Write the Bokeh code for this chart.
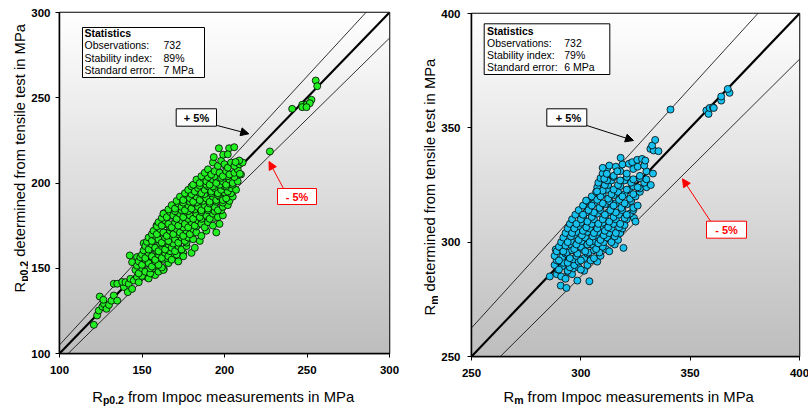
import math
import numpy as np
from bokeh.plotting import figure
from bokeh.layouts import row, column
from bokeh.models import Label, BoxAnnotation, Arrow, NormalHead, FixedTicker
from bokeh.core.properties import value
from bokeh.embed import file_html
from bokeh.resources import INLINE

# ---------------- data ----------------
rp_ticks = [100, 150, 200, 250, 300]
rm_ticks = [250, 300, 350, 400]
tolerance = [0.95, 1.0, 1.05]
stat_names = ["Observations:", "Stability index:", "Standard error:"]
rp02_stats = ["732", "89%", "7 MPa"]
rm_stats = ["732", "79%", "6 MPa"]
plus_text = "+ 5%"
minus_text = "- 5%"
x_title_rest = "from Impoc measurements in MPa"
y_title_rest = "determined from tensile test in MPa"

# (Impoc, tensile) pairs
rp02_points = [
    (120.8, 116.8), (122.8, 122.3), (123.8, 125.2), (126.0, 127.5), (127.0, 129.0), (128.5, 126.2),
    (130.0, 128.5), (124.4, 133.4), (126.6, 131.5), (131.5, 131.0), (132.9, 134.0), (135.0, 131.0),
    (132.9, 140.9), (135.0, 140.9), (139.0, 139.0), (138.0, 142.0), (140.0, 141.8), (141.4, 136.0),
    (142.0, 140.9), (144.0, 137.9), (143.0, 143.8), (145.0, 142.8), (147.0, 144.8), (148.0, 141.8),
    (142.6, 157.5), (144.0, 153.6), (147.0, 156.6), (151.0, 164.7), (153.0, 144.8), (163.2, 149.6),
    (175.0, 159.0), (158.8, 175.0), (163.2, 182.3), (150, 145.5), (154, 144), (158, 146),
    (146, 149), (148, 147), (150, 150), (152, 148), (155, 147), (157, 150), (160, 148), (163, 149),
    (147, 151.5), (151, 152.5), (155, 150), (159, 151.5), (162, 150.5),
    (148, 154), (150, 152), (152, 155), (154, 153), (156, 151), (158, 154), (160, 152), (163, 155),
    (166, 153), (172, 154),
    (149, 156.5), (153, 157.5), (157, 156), (161, 157.5), (165, 156), (169, 157),
    (150, 158), (152, 156), (154, 159), (156, 157), (158, 155), (160, 158), (162, 156), (164, 159),
    (166, 157), (168, 155), (171, 158), (175, 157), (180, 159),
    (151, 160.5), (155, 161.5), (159, 160), (163, 161.5), (167, 160), (171, 161.5),
    (152, 163), (154, 161), (156, 164), (158, 162), (160, 160), (162, 163), (164, 161), (166, 164),
    (168, 162), (170, 160), (172, 163), (174, 161), (177, 163), (182, 162),
    (153, 165.5), (157, 166.5), (161, 164.5), (165, 166), (169, 164.5), (173, 166.5), (177, 165),
    (154, 168), (156, 166), (158, 169), (160, 167), (162, 165), (164, 168), (166, 166), (168, 169),
    (170, 167), (172, 165), (174, 168), (176, 166), (178, 168), (181, 167), (185, 166),
    (156, 170), (160, 171), (164, 170.5), (168, 171.5), (172, 170), (176, 171), (180, 170.5),
    (157, 172), (159, 170), (161, 173), (163, 171), (165, 169), (167, 172), (169, 170), (171, 173),
    (173, 171), (175, 169), (177, 172), (179, 170), (181, 173), (183, 171), (186, 169), (189, 172),
    (195, 171),
    (159, 174.5), (163, 175.5), (167, 174), (171, 175.5), (175, 174), (179, 175.5), (183, 174.5),
    (187, 175.5),
    (160, 177), (162, 175), (164, 178), (166, 176), (168, 174), (170, 177), (172, 175), (174, 178),
    (176, 176), (178, 174), (180, 177), (182, 175), (184, 178), (186, 176), (188, 174), (190, 177),
    (193, 175), (197, 176),
    (162, 179.5), (166, 180.5), (170, 179.5), (174, 180.5), (178, 179), (182, 180.5), (186, 179),
    (190, 180.5), (194, 179.5),
    (163, 182), (165, 180), (167, 183), (169, 181), (171, 179), (173, 182), (175, 180), (177, 183),
    (179, 181), (181, 179), (183, 182), (185, 180), (187, 183), (189, 181), (191, 179), (193, 182),
    (196, 180), (199, 181),
    (166, 184.5), (170, 183.5), (174, 184), (178, 183.5), (182, 184.5), (186, 183), (190, 184),
    (194, 183.5), (198, 184),
    (168, 187), (170, 185), (172, 188), (174, 186), (176, 184), (178, 187), (180, 185), (182, 188),
    (184, 186), (186, 184), (188, 187), (190, 185), (192, 188), (194, 186), (196, 184), (199, 186),
    (202, 187),
    (171, 189.5), (175, 188.5), (179, 189), (183, 188.5), (187, 189.5), (191, 188), (195, 189),
    (199, 188.5), (203, 189.5),
    (173, 192), (175, 190), (177, 193), (179, 191), (181, 189), (183, 192), (185, 190), (187, 193),
    (189, 191), (191, 189), (193, 192), (195, 190), (197, 192), (199, 190), (201, 191), (205, 192),
    (176, 194), (180, 193.5), (184, 194.5), (188, 193.5), (192, 194), (196, 193), (200, 194.5),
    (204, 194),
    (178, 196), (180, 198), (182, 195), (184, 197), (186, 194), (188, 196), (190, 198), (192, 195),
    (194, 197), (196, 194), (198, 196), (200, 198), (202, 195), (204, 197), (207, 196),
    (181, 199), (185, 198.5), (189, 199), (193, 198), (197, 199), (201, 198), (205, 199),
    (183, 202), (185, 200), (187, 203), (189, 201), (191, 199), (193, 202), (195, 200), (197, 203),
    (199, 201), (201, 199), (203, 202), (205, 200), (208, 201),
    (186, 204), (190, 203.5), (194, 204), (198, 203), (202, 204), (206, 203.5),
    (188, 206), (190, 208), (192, 205), (194, 207), (197, 206), (199, 204), (201, 207), (203, 205),
    (206, 206), (208, 208), (210, 205),
    (193, 212), (196, 210), (198, 213), (200, 211), (202, 209), (204, 212), (206, 210), (209, 211),
    (211, 212),
    (196.6, 220.4), (202.8, 220.4), (205.9, 221.0), (193.5, 215.2), (199.2, 216.6), (202.0, 216.8),
    (208.9, 213.2), (206.7, 212.3), (209.3, 205.4),
    (227.5, 218.5), (241.0, 243.5), (247.1, 245.9), (249.7, 245.9), (252.7, 248.8), (251.7, 246.8),
    (247.1, 244.5), (249.7, 244.5), (255.3, 260.1), (256.2, 256.8),
]

rm_points = [
    (285.8, 285.0), (290.8, 281.0), (293.4, 280.0), (298.4, 283.2), (303.9, 282.9), (288.5, 296.8),
    (319.5, 297.5), (324.3, 310.6),
    (289, 286), (291, 285), (294, 287), (296, 286), (293, 284),
    (289.5, 288), (291.5, 289.5), (294, 287.5), (296.5, 288.5), (299, 289), (301.5, 287.5),
    (288, 290), (290, 288), (292, 291), (295, 289), (297, 290), (300, 288), (303, 290),
    (289, 292), (291.5, 293.5), (294, 291), (296.5, 292.5), (299, 291.5), (301.5, 293), (304.5, 292),
    (307.5, 291.5),
    (288, 294), (290, 292), (293, 295), (295, 293), (298, 294), (300, 292), (303, 295), (306, 293),
    (309, 294),
    (289, 296), (291, 297.5), (293.5, 295.5), (296, 296.5), (298.5, 295), (301, 297), (303.5, 295.5),
    (306, 296.5), (308.5, 295.5), (311.5, 297),
    (290, 298), (292, 296), (295, 299), (297, 297), (300, 298), (302, 296), (305, 299), (307, 297),
    (310, 298), (313, 296),
    (291, 300), (293, 298.5), (295.5, 300.5), (298, 299), (300.5, 300.5), (303, 299), (305.5, 300.5),
    (308, 299.5), (310.5, 300), (313, 301.5), (315.5, 299),
    (292, 302), (294, 300), (297, 303), (299, 301), (302, 302), (304, 300), (307, 303), (309, 301),
    (312, 302), (314, 300), (317, 301),
    (293, 304), (295.5, 302.5), (298, 304.5), (300.5, 303), (303, 304.5), (305.5, 302.5), (308, 304.5),
    (310.5, 303), (313, 304), (315.5, 302.5), (318, 304),
    (294, 306), (296, 304), (299, 307), (301, 305), (304, 306), (306, 304), (309, 307), (311, 305),
    (314, 306), (316, 304), (319, 306),
    (295, 308), (297, 306), (300, 308.5), (302.5, 306.5), (305, 308), (307.5, 306), (310, 308.5),
    (312.5, 306.5), (315, 308), (317.5, 306.5), (320, 307.5),
    (296, 310), (298, 308), (301, 311), (303, 309), (306, 310), (308, 308), (311, 311), (313, 309),
    (316, 310), (318, 308), (321, 310), (325, 309),
    (297.5, 312), (300, 310), (302.5, 313), (305, 311), (307.5, 312.5), (310, 310), (312.5, 313),
    (315, 311), (317.5, 312), (320, 310.5), (322.5, 312.5),
    (299, 314), (301, 312), (304, 315), (306, 313), (309, 314), (311, 312), (314, 315), (316, 313),
    (319, 314), (321, 312), (324, 314),
    (301, 316), (303.5, 314), (306, 317), (308.5, 315), (311, 316.5), (313.5, 314), (316, 317),
    (318.5, 315), (321, 316.5), (324, 315),
    (303, 318), (305, 316), (308, 319), (310, 317), (313, 318), (315, 316), (318, 319), (320, 317),
    (323, 318), (326, 316),
    (305, 320), (307.5, 318.5), (310, 321), (312.5, 319), (315, 320.5), (317.5, 318.5), (320, 321),
    (322.5, 319), (325, 320),
    (307, 322), (309, 320), (312, 323), (314, 321), (317, 322), (319, 320), (322, 323), (324, 321),
    (327, 322),
    (307.5, 324), (310, 322.5), (312.5, 325), (315, 323), (318, 324.5), (321, 323), (324, 324.5),
    (327, 323.5), (330, 324),
    (308, 326), (311, 325), (314, 327), (317, 325), (320, 327), (323, 326), (326, 324), (329, 326),
    (332, 325),
    (309, 328), (312, 327), (315, 328.5), (318, 327), (321, 328.5), (324, 327.5), (327, 328),
    (330, 327.5),
    (310, 330), (312, 332), (315, 329), (318, 331), (321, 330), (324, 332), (327, 329), (330, 331),
    (333, 330),
    (313, 333.5), (316, 333), (319, 334), (326, 333), (329, 333.5),
    (302.4, 318.2), (307.4, 322.2), (310.7, 327.7), (311.9, 329.9), (310.0, 332.5), (316.7, 331.0),
    (318.2, 336.9), (322.0, 334.3), (323.5, 335.0), (325.8, 336.0), (328.0, 336.4), (329.5, 335.7),
    (331.8, 340.8), (333.3, 340.1), (335.5, 339.8), (332.6, 342.3), (334.0, 344.7),
    (341.0, 358.0),
    (357.4, 357.6), (358.4, 356.1), (358.9, 358.7), (360.4, 359.0), (360.8, 358.7), (364.2, 361.9),
    (364.2, 363.7), (368.0, 365.3), (367.2, 367.0),
]

# ---------------- styling ----------------
FONT = "Liberation Sans"
GRAYS = ["#%02x%02x%02x" % (v, v, v) for v in np.linspace(190, 255, 256).astype(int)]
RED = "#ff0000"
PAGE_W = 808
PAGE_H = 408
TOP_H = 383          # height of the row holding the two charts
TITLE_SIZE = "14.8px"
R_W = 10.7           # width of "R" at TITLE_SIZE
SPACE_W = 4.1        # width of a space at TITLE_SIZE


def mapper(fx0, fx1, fy0, fy1, rng):
    lo, hi = rng

    def m(px, py):
        x = lo + (px - fx0) / (fx1 - fx0) * (hi - lo)
        y = lo + (fy1 - py) / (fy1 - fy0) * (hi - lo)
        return x, y
    return m


def strip(w, h):
    s = figure(width=w, height=h, x_range=(0, w), y_range=(0, h), min_border=0,
               x_axis_type=None, y_axis_type=None, toolbar_location=None,
               output_backend="svg", outline_line_color=None, border_fill_color="white")
    s.grid.visible = False
    return s


def build(cfg):
    lo, hi = cfg["rng"]
    p = figure(x_range=(lo, hi), y_range=(lo, hi),
               frame_width=cfg["fx1"] - cfg["fx0"], frame_height=cfg["fy1"] - cfg["fy0"],
               min_border_left=cfg["bl"], min_border_right=cfg["br"],
               min_border_top=cfg["bt"], min_border_bottom=cfg["bb"],
               output_backend="svg", toolbar_location=None,
               border_fill_color="white")
    p.grid.visible = False
    p.outline_line_color = "black"
    p.outline_line_width = 1.5
    for ax in (p.xaxis[0], p.yaxis[0]):
        ax.ticker = FixedTicker(ticks=cfg["ticks"])
        ax.major_tick_out = 4
        ax.major_tick_in = 0
        ax.minor_tick_line_color = None
        ax.axis_line_width = 1.5
        ax.axis_line_color = "black"
        ax.major_tick_line_color = "black"
        ax.major_label_text_font = FONT
        ax.major_label_text_font_style = "bold"
        ax.major_label_text_font_size = "11.5px"
        ax.major_label_text_color = "black"
    p.xaxis.major_label_standoff = 8
    p.yaxis.major_label_standoff = cfg["ystand"]

    grad = np.linspace(0, 1, 256).reshape(256, 1)
    p.image(image=[grad], x=lo, y=lo, dw=hi - lo, dh=hi - lo, palette=GRAYS)

    for f in tolerance:
        p.line([lo, hi], [lo * f, hi * f], line_color="black",
               line_width=2.2 if f == 1.0 else 0.8)

    xs = [a for a, b in cfg["pts"]]
    ys = [b for a, b in cfg["pts"]]
    p.scatter(xs, ys, size=7, fill_color=cfg["color"], line_color="black", line_width=0.8)

    m = mapper(cfg["fx0"], cfg["fx1"], cfg["fy0"], cfg["fy1"], cfg["rng"])

    # statistics box
    bx0, by0, bx1, by1 = cfg["statbox"]
    l, t = m(bx0, by0)
    r, b = m(bx1, by1)
    p.add_layout(BoxAnnotation(left=l, right=r, top=t, bottom=b, fill_color="white",
                               fill_alpha=1, line_color="black", line_width=1, line_alpha=1))
    rows_y = cfg["statrows"]
    x, y = m(cfg["stattx"], rows_y[0])
    p.add_layout(Label(x=x, y=y, text="Statistics", text_font=FONT, text_font_size="10.5px",
                       text_font_style="bold", text_baseline="middle", text_color="black"))
    for name, val, ry in zip(stat_names, cfg["stats"], rows_y[1:]):
        x, y = m(cfg["stattx"], ry)
        p.add_layout(Label(x=x, y=y, text=name, text_font=FONT, text_font_size="10.5px",
                           text_baseline="middle", text_color="black"))
        x, y = m(cfg["statvx"], ry)
        p.add_layout(Label(x=x, y=y, text=val, text_font=FONT, text_font_size="10.5px",
                           text_baseline="middle", text_color="black"))

    # +5% / -5% boxes and arrows
    for key, txt, col in (("plus", plus_text, "black"), ("minus", minus_text, RED)):
        bx0, by0, bx1, by1 = cfg[key + "box"]
        l, t = m(bx0, by0)
        r, b = m(bx1, by1)
        p.add_layout(BoxAnnotation(left=l, right=r, top=t, bottom=b, fill_color="white",
                                   fill_alpha=1, line_color=col, line_width=1, line_alpha=1))
        cx, cy = m(*cfg[key + "txt"])
        p.add_layout(Label(x=cx, y=cy, text=txt, text_font=FONT, text_font_size="11px",
                           text_font_style="bold", text_align="center",
                           text_baseline="middle", text_color=col))
        sx, sy, ex, ey = cfg[key + "arrow"]
        x0, y0 = m(sx, sy)
        x1, y1 = m(ex, ey)
        p.add_layout(Arrow(x_start=x0, y_start=y0, x_end=x1, y_end=y1,
                           line_color=col, line_width=1,
                           end=NormalHead(size=8, fill_color=col, line_color=col)))
    return p


def add_xtitle(s, cfg):
    # s spans the full page width; x in page pixels, y from the strip bottom
    tx, ty = cfg["xtitle"]
    y = PAGE_H - ty
    s.text(x=[tx], y=[y], text=["R"], text_font=value(FONT), text_font_size=TITLE_SIZE,
           text_baseline="alphabetic", text_align="left", text_color="black")
    s.text(x=[tx + R_W], y=[y - 3.5], text=[cfg["sub"]], text_font=value(FONT),
           text_font_size="10.5px", text_font_style="bold",
           text_baseline="alphabetic", text_align="left", text_color="black")
    s.text(x=[tx + R_W + cfg["subw"] + SPACE_W], y=[y], text=[x_title_rest],
           text_font=value(FONT), text_font_size=TITLE_SIZE,
           text_baseline="alphabetic", text_align="left", text_color="black")


def ytitle(cfg):
    w = cfg["yt_w"]
    s = strip(w, TOP_H)
    tx, ty = cfg["ytitle"]
    x = tx - cfg["yt_left"]
    y = TOP_H - ty
    a = math.pi / 2
    s.text(x=[x], y=[y], text=["R"], angle=a, text_font=value(FONT), text_font_size=TITLE_SIZE,
           text_baseline="alphabetic", text_align="left", text_color="black")
    s.text(x=[x + 3.5], y=[y + R_W], text=[cfg["sub"]], angle=a, text_font=value(FONT),
           text_font_size="10.5px", text_font_style="bold",
           text_baseline="alphabetic", text_align="left", text_color="black")
    s.text(x=[x], y=[y + R_W + cfg["subw"] + SPACE_W], text=[y_title_rest],
           angle=a, text_font=value(FONT), text_font_size=TITLE_SIZE,
           text_baseline="alphabetic", text_align="left", text_color="black")
    return s


left_cfg = dict(rng=(100, 300), ticks=rp_ticks, pts=rp02_points, color="#22ee22",
                fx0=59, fx1=389, fy0=12, fy1=353, bl=31, br=11, bt=12, bb=30, ystand=5,
                stats=rp02_stats, statbox=(82, 27, 204, 77), statrows=[32.7, 44.5, 57.0, 69.5],
                stattx=84, statvx=163,
                plusbox=(175.7, 108.3, 216, 125.7), plustxt=(196, 117), plusarrow=(216.7, 125, 248.3, 133.3),
                minusbox=(277, 188, 316, 204), minustxt=(296.5, 196.2), minusarrow=(283, 188, 268.5, 161),
                xtitle=(91.7, 396), ytitle=(19.5, 292), yt_left=0, yt_w=28, sub="p0.2", subw=21.0)

right_cfg = dict(rng=(250, 400), ticks=rm_ticks, pts=rm_points, color="#18c0ee",
                 fx0=469, fx1=797, fy0=13, fy1=356, bl=31, br=11, bt=13, bb=27, ystand=7,
                 stats=rm_stats, statbox=(481.7, 23.3, 607.3, 74), statrows=[30.7, 42.7, 54.3, 66.0],
                 stattx=484.5, statvx=561.7,
                 plusbox=(544.3, 108.3, 584.3, 125.7), plustxt=(566, 117), plusarrow=(584.3, 125, 631, 140),
                 minusbox=(704, 220.7, 744, 237.7), minustxt=(724, 229.4), minusarrow=(708, 220.7, 680, 178.3),
                 xtitle=(503, 396), ytitle=(429.5, 315), yt_left=400, yt_w=38, sub="m", subw=9.3)

xt = strip(PAGE_W, PAGE_H - TOP_H)
add_xtitle(xt, left_cfg)
add_xtitle(xt, right_cfg)

# each figure sits in its own column so that Bokeh does not align borders between siblings
layout = column(
    row(column(ytitle(left_cfg)), column(build(left_cfg)),
        column(ytitle(right_cfg)), column(build(right_cfg))),
    xt,
)

open("out.html", "w").write(file_html(layout, INLINE))
